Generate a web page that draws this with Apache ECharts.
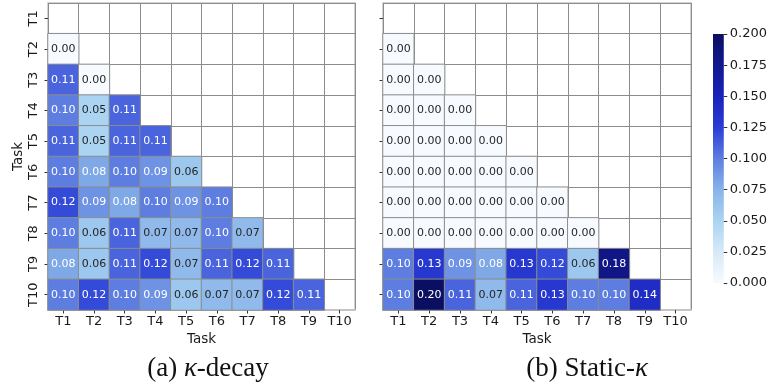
<!DOCTYPE html>
<html>
<head>
<meta charset="utf-8">
<script src="https://cdn.jsdelivr.net/npm/echarts@6/dist/echarts.min.js"></script>
<style>
  html, body { margin: 0; padding: 0; background: #fff; }
  #chart { width: 770px; height: 385px; }
</style>
</head>
<body>
<div id="chart"></div>
<script>
// Task labels shared by both heatmaps
const tasks = ['T1', 'T2', 'T3', 'T4', 'T5', 'T6', 'T7', 'T8', 'T9', 'T10'];

// Lower-triangular values: row i holds columns T1..T(i)
const decayRows = [
  [],
  [0.00],
  [0.11, 0.00],
  [0.10, 0.05, 0.11],
  [0.11, 0.05, 0.11, 0.11],
  [0.10, 0.08, 0.10, 0.09, 0.06],
  [0.12, 0.09, 0.08, 0.10, 0.09, 0.10],
  [0.10, 0.06, 0.11, 0.07, 0.07, 0.10, 0.07],
  [0.08, 0.06, 0.11, 0.12, 0.07, 0.11, 0.12, 0.11],
  [0.10, 0.12, 0.10, 0.09, 0.06, 0.07, 0.07, 0.12, 0.11]
];

const staticRows = [
  [],
  [0.00],
  [0.00, 0.00],
  [0.00, 0.00, 0.00],
  [0.00, 0.00, 0.00, 0.00],
  [0.00, 0.00, 0.00, 0.00, 0.00],
  [0.00, 0.00, 0.00, 0.00, 0.00, 0.00],
  [0.00, 0.00, 0.00, 0.00, 0.00, 0.00, 0.00],
  [0.10, 0.13, 0.09, 0.08, 0.13, 0.12, 0.06, 0.18],
  [0.10, 0.20, 0.11, 0.07, 0.11, 0.13, 0.10, 0.10, 0.14]
];

// Colour bar ticks
const colorTicks = [0, 0.025, 0.05, 0.075, 0.1, 0.125, 0.15, 0.175, 0.2];

// Colour ramp: white -> light blue -> royal blue -> deep navy
const rampColors = ['#f7fbff', '#d6e9f8', '#aad4f2', '#88b3e9', '#5d7ee0',
                    '#2a3dd6', '#1a22b8', '#121890', '#0b0f62'];

const textFont = 'DejaVu Sans';
const vMin = colorTicks[0];
const vMax = colorTicks[colorTicks.length - 1];

function buildCells(rows) {
  const out = [];
  rows.forEach((row, i) => {
    row.forEach((v, j) => {
      out.push({
        value: [j, i, v],
        label: { color: v >= 0.075 ? '#ffffff' : '#262626' }
      });
    });
  });
  return out;
}

const gridLine = { show: true, interval: 0, lineStyle: { color: '#8c8c8c', width: 1 } };

function xAxisFor(gridIndex) {
  return {
    type: 'category', gridIndex, data: tasks,
    position: 'bottom',
    name: 'Task', nameLocation: 'middle', nameGap: 21,
    nameTextStyle: { fontFamily: textFont, fontSize: 13.5, color: '#1a1a1a' },
    axisLine: { show: true, lineStyle: { color: '#c4c4c4', width: 2 } },
    axisTick: { show: true, interval: 0, alignWithLabel: true, length: 3.5, lineStyle: { color: '#333' } },
    axisLabel: { interval: 0, fontFamily: textFont, fontSize: 13, color: '#1a1a1a', margin: 5 },
    splitLine: gridLine
  };
}

function yAxisFor(gridIndex, withLabels) {
  return {
    type: 'category', gridIndex, data: tasks, inverse: true,
    name: withLabels ? 'Task' : '', nameLocation: 'middle', nameGap: 23,
    nameRotate: 90,
    nameTextStyle: { fontFamily: textFont, fontSize: 13.5, color: '#1a1a1a' },
    axisLine: { show: false },
    axisTick: { show: true, interval: 0, alignWithLabel: true, length: 3.5, lineStyle: { color: '#333' } },
    axisLabel: { show: withLabels, interval: 0, rotate: 90, fontFamily: textFont, fontSize: 13, color: '#1a1a1a', margin: 8 },
    splitLine: gridLine
  };
}

function heatSeries(idx, rows) {
  return {
    type: 'heatmap', xAxisIndex: idx, yAxisIndex: idx,
    data: buildCells(rows),
    label: {
      show: true, fontFamily: textFont, fontSize: 11,
      formatter: p => p.value[2].toFixed(2)
    },
    itemStyle: { borderColor: '#8c8c8c', borderWidth: 1 },
    emphasis: { disabled: true }
  };
}

// Vertical gradient for the colour bar, bottom = min, top = max
const barGradient = new echarts.graphic.LinearGradient(0, 1, 0, 0,
  rampColors.map((c, i) => ({ offset: i / (rampColors.length - 1), color: c })));

const chart = echarts.init(document.getElementById('chart'), null, { renderer: 'canvas' });

chart.setOption({
  animation: false,
  backgroundColor: '#ffffff',
  grid: [
    { left: 48, top: 3, width: 307, height: 307, show: true, borderColor: '#c4c4c4', borderWidth: 1.5, backgroundColor: '#fff' },
    { left: 383, top: 3, width: 308, height: 307, show: true, borderColor: '#c4c4c4', borderWidth: 1.5, backgroundColor: '#fff' },
    { left: 713, top: 34, width: 13, height: 249, show: true, borderWidth: 0, backgroundColor: barGradient }
  ],
  xAxis: [
    xAxisFor(0),
    xAxisFor(1),
    { type: 'value', gridIndex: 2, show: false, min: 1, max: 2 }
  ],
  yAxis: [
    yAxisFor(0, true),
    yAxisFor(1, false),
    {
      type: 'value', gridIndex: 2, position: 'right',
      min: vMin, max: vMax, interval: 0.025,
      axisLine: { show: false, onZero: false },
      axisTick: { show: true, inside: false, length: 3.5, lineStyle: { color: '#333' } },
      axisLabel: { fontFamily: textFont, fontSize: 13, color: '#1a1a1a', margin: 6,
                   formatter: v => v.toFixed(3) },
      splitLine: { show: false }
    }
  ],
  visualMap: {
    type: 'continuous', show: false, seriesIndex: [0, 1],
    min: vMin, max: vMax,
    inRange: { color: rampColors }
  },
  series: [
    heatSeries(0, decayRows),
    heatSeries(1, staticRows)
  ],
  graphic: [
    {
      type: 'text', x: 208, y: 369,
      style: {
        text: '(a) {i|κ}-decay', align: 'center', verticalAlign: 'middle',
        font: '27px "Liberation Serif"', fill: '#111',
        rich: { i: { fontFamily: 'Liberation Serif', fontStyle: 'italic', fontSize: 27, fill: '#111' } }
      }
    },
    {
      type: 'text', x: 587, y: 369,
      style: {
        text: '(b) Static-{i|κ}', align: 'center', verticalAlign: 'middle',
        font: '27px "Liberation Serif"', fill: '#111',
        rich: { i: { fontFamily: 'Liberation Serif', fontStyle: 'italic', fontSize: 27, fill: '#111' } }
      }
    }
  ]
});
</script>
</body>
</html>
